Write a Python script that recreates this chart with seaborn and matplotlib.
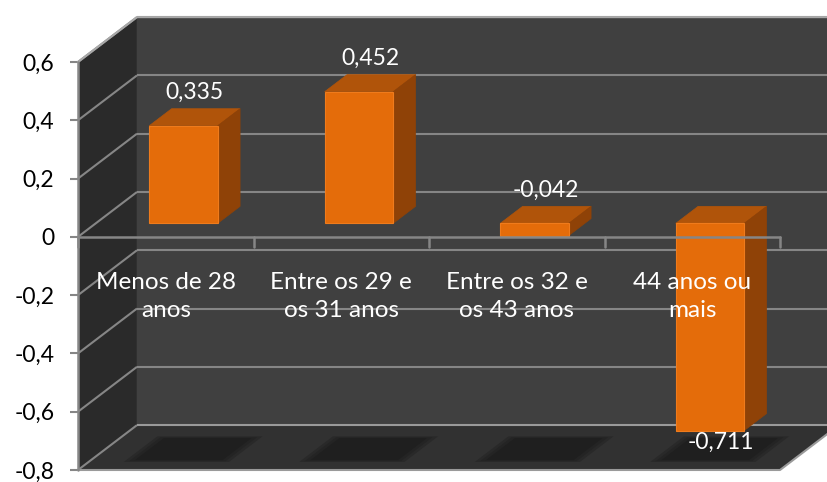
import textwrap
import numpy as np
import pandas as pd
import matplotlib
matplotlib.use("Agg")
import matplotlib.pyplot as plt
from matplotlib.patches import Polygon
import seaborn as sns

# ---------------- data ----------------
categories = ["Menos de 28 anos", "Entre os 29 e os 31 anos",
              "Entre os 32 e os 43 anos", "44 anos ou mais"]
values = [0.335, 0.452, -0.042, -0.711]
value_labels = ["0,335", "0,452", "-0,042", "-0,711"]
y_ticks = [-0.8, -0.6, -0.4, -0.2, 0.0, 0.2, 0.4, 0.6]
y_tick_labels = ["-0,8", "-0,6", "-0,4", "-0,2", "0", "0,2", "0,4", "0,6"]

# ---------------- style ----------------
sns.set_theme(style="white")
plt.rcParams['font.family'] = ['Lato', 'DejaVu Sans']

FRONT = '#E46C0A'
TOP = '#B0540A'
SIDE = '#8F4207'
BACK_WALL = '#404040'
LEFT_WALL = '#2A2A2A'
FLOOR = '#313131'
SHADOW = '#1F1F1F'
GRID = '#868686'

W, H = 827, 482
fig = plt.figure(figsize=(W / 100, H / 100), dpi=100)
fig.patch.set_facecolor('white')
ax = fig.add_axes([78 / W, 12 / H, 702 / W, 408 / H])
ax.patch.set_visible(False)

YMIN, YMAX = -0.8, 0.6
XL, XR = -0.5, 3.5
DX, DY = 0.336, 0.154      # full depth offset (data units)
D0, D1 = 0.30, 0.68        # bar depth range
BW = 0.39                  # bar width
PX_Y = 291.5               # pixels per value unit


def P(x, v, d):
    return (x + d * DX, v + d * DY)


# ---------------- bars (front faces via seaborn) ----------------
df = pd.DataFrame({"categoria": categories, "valor": values})
sns.barplot(data=df, x="categoria", y="valor", order=categories, color=FRONT,
            saturation=1, width=BW, ax=ax, zorder=3,
            edgecolor='#EF7B1C', linewidth=0.8)
bars = list(ax.patches)

for p in bars:
    x0 = p.get_x()
    x1 = x0 + p.get_width()
    y0 = p.get_y()
    y1 = y0 + p.get_height()
    top, bot = max(y0, y1), min(y0, y1)
    # top face
    ax.add_patch(Polygon([P(x0, top, D0), P(x1, top, D0), P(x1, top, D1), P(x0, top, D1)],
                         closed=True, facecolor=TOP, edgecolor=TOP, lw=0.5,
                         zorder=2.9, clip_on=False))
    # side face
    ax.add_patch(Polygon([P(x1, bot, D0), P(x1, top, D0), P(x1, top, D1), P(x1, bot, D1)],
                         closed=True, facecolor=SIDE, edgecolor=SIDE, lw=0.5,
                         zorder=2.9, clip_on=False))
    # move front face to its depth
    p.set_x(x0 + D0 * DX)
    p.set_y(y0 + D0 * DY)
    p.set_clip_on(False)

    # floor shadow
    cx = (x0 + x1) / 2
    for grow, col in [(0.05, '#292929'), (0.025, '#242424'), (0.0, SHADOW)]:
        hw = 0.25 + grow
        da, db = 0.22 - grow * 0.8, 0.71 + grow * 0.8
        ax.add_patch(Polygon([P(cx - hw, YMIN, da), P(cx + hw, YMIN, da),
                              P(cx + hw, YMIN, db), P(cx - hw, YMIN, db)],
                             closed=True, facecolor=col, edgecolor='none',
                             zorder=1.5, clip_on=False))

# ---------------- walls & floor ----------------
ax.add_patch(Polygon([P(XL, YMIN, 1), P(XR + 0.3, YMIN, 1), P(XR + 0.3, YMAX, 1), P(XL, YMAX, 1)],
                     closed=True, facecolor=BACK_WALL, edgecolor='none', zorder=0.5, clip_on=False))
ax.add_patch(Polygon([P(XL, YMIN, 0), P(XL, YMIN, 1), P(XL, YMAX, 1), P(XL, YMAX, 0)],
                     closed=True, facecolor=LEFT_WALL, edgecolor='none', zorder=0.6, clip_on=False))
ax.add_patch(Polygon([P(XL, YMIN, 0), P(XR, YMIN, 0), P(XR, YMIN, 1), P(XL, YMIN, 1)],
                     closed=True, facecolor=FLOOR, edgecolor='none', zorder=0.7, clip_on=False))

# gridlines (left wall diagonals + back wall)
for t in y_ticks:
    a, b = P(XL, t, 0), P(XL, t, 1)
    ax.plot([a[0], b[0]], [a[1], b[1]], color=GRID, lw=1.5, zorder=1, clip_on=False,
            solid_capstyle='butt')
    c = P(XR + 0.3, t, 1)
    ax.plot([b[0], c[0]], [b[1], c[1]], color=GRID if t > YMIN else '#9a9a9a', lw=1.5,
            zorder=1, clip_on=False, solid_capstyle='butt')

# floor front & right edges, vertical axis line
a, b, c = P(XL, YMIN, 0), P(XR, YMIN, 0), P(XR, YMIN, 1)
ax.plot([a[0], b[0], c[0]], [a[1], b[1], c[1]], color='#9a9a9a', lw=1.5, zorder=1.2, clip_on=False)
ax.plot([XL, XL], [YMIN, YMAX], color=GRID, lw=1.8, zorder=1.2, clip_on=False)
# top edge of back wall
t1, t2 = P(XL, YMAX, 0), P(XL, YMAX, 1)
ax.plot([t1[0], t2[0], XR + 1], [t1[1], t2[1], t2[1]], color='#a8a8a8', lw=1.5, zorder=1.1, clip_on=False)

# category axis line at 0 with tick marks at boundaries
ax.plot([XL, XR], [0, 0], color=GRID, lw=1.8, zorder=4, clip_on=False)
tick_len = 10 / PX_Y
for k in range(len(categories) + 1):
    xb = XL + k
    ax.plot([xb, xb], [0, -tick_len], color=GRID, lw=1.8, zorder=4, clip_on=False)

# category labels
for i, c in enumerate(categories):
    ax.text(i, -0.205, textwrap.fill(c, 13), ha='center', va='center', color='white',
            fontsize=17.5, linespacing=1.4, zorder=6)

# value labels
for i, (v, lab) in enumerate(zip(values, value_labels)):
    xm = i + 0.49 * DX
    if v < -0.1:
        y = v + 0.49 * DY - 0.07
    else:
        y = max(v, 0) + 0.49 * DY + 0.085
    ax.text(xm, y, lab, ha='center', va='center', color='white', fontsize=16.5, zorder=6)

# ---------------- axes ----------------
ax.set_xlim(XL, XR)
ax.set_ylim(YMIN, YMAX)
ax.set_xticks([])
ax.set_xlabel('')
ax.set_ylabel('')
ax.set_yticks(y_ticks, y_tick_labels)
ax.tick_params(axis='y', left=True, length=6, width=1.5, color=GRID, pad=11,
               labelsize=16.5, labelcolor='black', direction='out')
for s in ax.spines.values():
    s.set_visible(False)

fig.savefig('out.png', dpi=100, facecolor='white')
